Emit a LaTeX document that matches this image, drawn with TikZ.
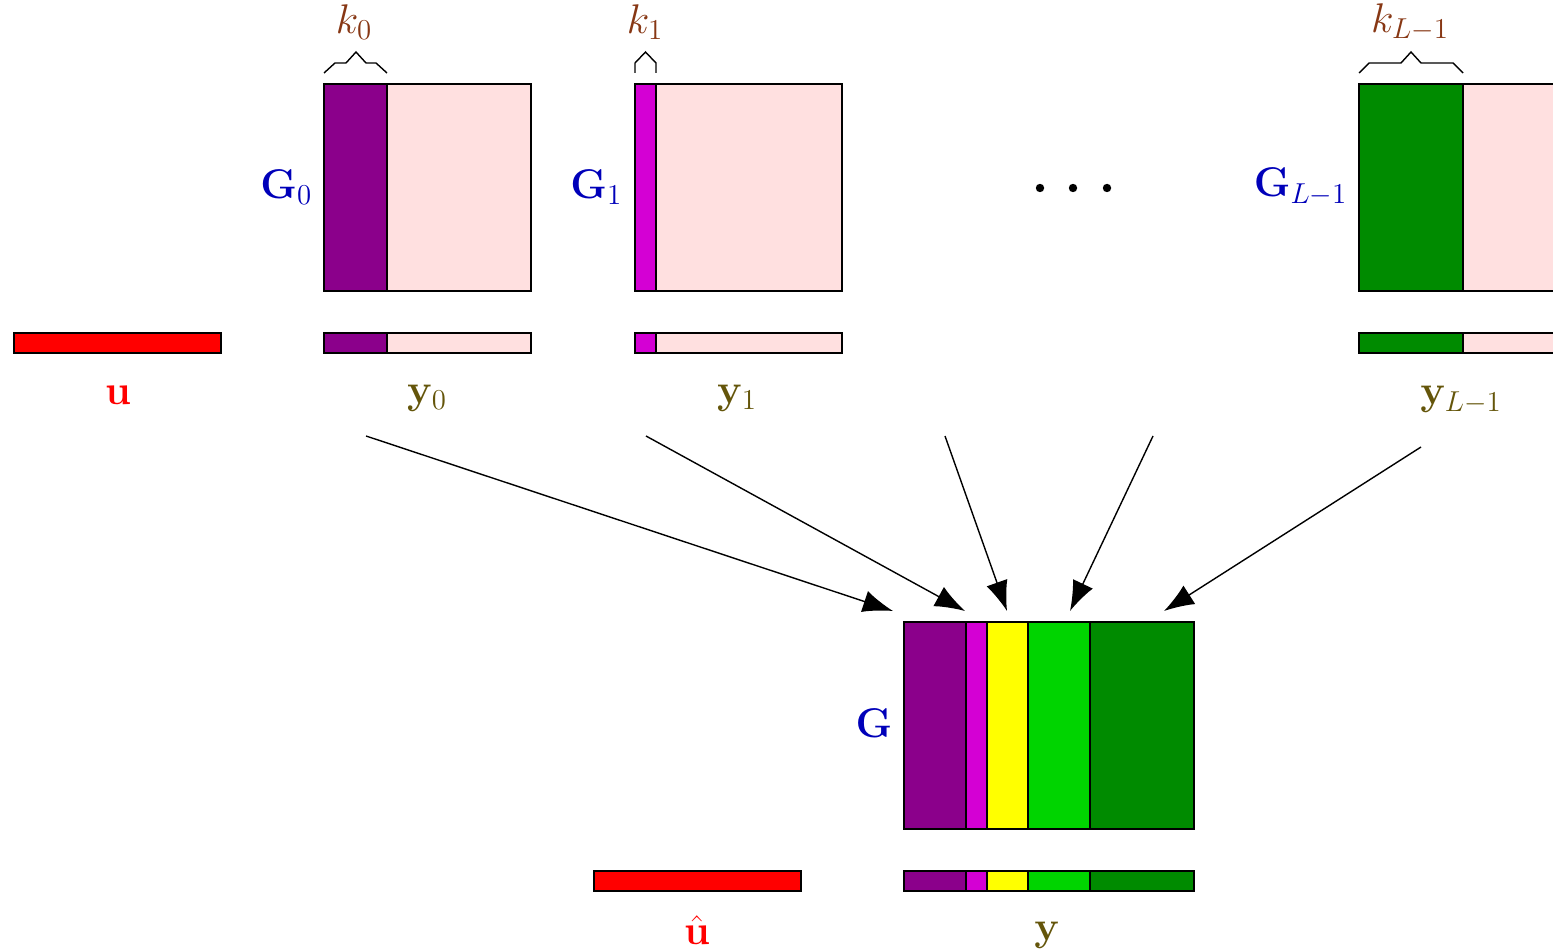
\documentclass[tikz,border=0pt]{standalone}
\usetikzlibrary{arrows.meta}
\definecolor{cpurple}{RGB}{139,0,139}
\definecolor{cmag}{RGB}{212,0,212}
\definecolor{cyel}{RGB}{255,255,0}
\definecolor{clgreen}{RGB}{0,212,0}
\definecolor{cdgreen}{RGB}{0,139,0}
\definecolor{cpink}{RGB}{255,224,224}
\definecolor{cred}{RGB}{255,0,0}
\definecolor{cblue}{RGB}{0,0,185}
\definecolor{colive}{RGB}{100,85,10}
\definecolor{cbrown}{RGB}{135,55,20}
\begin{document}
\begin{tikzpicture}[x=0.5pt,y=-0.5pt,line width=0.8pt,
  lbl/.style={font=\fontsize{19.5}{23}\selectfont,inner sep=0pt},
  glbl/.style={lbl,text=cblue,anchor=east},
  ylbl/.style={lbl,text=colive},
  klbl/.style={lbl,text=cbrown},
  bracepath/.style={line width=0.7pt,line join=miter},
  arr/.style={-{Latex[length=15pt,width=11pt]},line width=0.7pt},
  dotmark/.style={circle,fill=black,inner sep=0pt,minimum size=4.2pt}]
\clip (0,0) rectangle (1553,952);
% ---- G0 ----
\fill[cpink] (387,84) rectangle (531,291);
\fill[cpurple] (324,84) rectangle (387,291);
\draw (324,84) rectangle (531,291) (387,84) -- (387,291);
\fill[cpink] (387,333) rectangle (531,353);
\fill[cpurple] (324,333) rectangle (387,353);
\draw (324,333) rectangle (531,353) (387,333) -- (387,353);
\draw[bracepath] (324,73) -- (335,63) -- (346,63) -- (356,52) -- (366,63) -- (376,63) -- (387,73);
\node[klbl] (k0) at (354,22) {$k_0$};
\node[glbl] (G0) at (313,187) {$\mathbf{G}_0$};
\node[ylbl] (y0) at (427,398) {$\mathbf{y}_0$};
% ---- G1 ----
\fill[cpink] (656,84) rectangle (842,291);
\fill[cmag] (635,84) rectangle (656,291);
\draw (635,84) rectangle (842,291) (656,84) -- (656,291);
\fill[cpink] (656,333) rectangle (842,353);
\fill[cmag] (635,333) rectangle (656,353);
\draw (635,333) rectangle (842,353) (656,333) -- (656,353);
\draw[bracepath] (635,73) -- (635,63) -- (645.5,52) -- (656,63) -- (656,73);
\node[klbl] (k1) at (645,22) {$k_1$};
\node[glbl] (G1) at (623,187) {$\mathbf{G}_1$};
\node[ylbl] (y1) at (737,398) {$\mathbf{y}_1$};
% ---- dots ----
\node[dotmark] (d1) at (1040,188) {};
\node[dotmark] (d2) at (1073,188) {};
\node[dotmark] (d3) at (1107,188) {};
% ---- G_{L-1} ----
\fill[cpink] (1463,84) rectangle (1566,291);
\fill[cdgreen] (1359,84) rectangle (1463,291);
\draw (1359,84) rectangle (1566,291) (1463,84) -- (1463,291);
\fill[cpink] (1463,333) rectangle (1566,353);
\fill[cdgreen] (1359,333) rectangle (1463,353);
\draw (1359,333) rectangle (1566,353) (1463,333) -- (1463,353);
\draw[bracepath] (1359,73) -- (1369,63) -- (1401,63) -- (1411,52) -- (1421,63) -- (1453,63) -- (1463,73);
\node[klbl] (kL) at (1410,22) {$k_{L-1}$};
\node[glbl] (GL) at (1348,187) {$\mathbf{G}_{L-1}$};
\node[ylbl] (yL) at (1461,400) {$\mathbf{y}_{L-1}$};
% ---- u ----
\draw[fill=cred] (14,333) rectangle (221,353);
\node[lbl,text=cred] (u) at (118,395) {$\mathbf{u}$};
% ---- G ----
\fill[cpurple] (904,622) rectangle (966,829);
\fill[cmag] (966,622) rectangle (987,829);
\fill[cyel] (987,622) rectangle (1028,829);
\fill[clgreen] (1028,622) rectangle (1090,829);
\fill[cdgreen] (1090,622) rectangle (1194,829);
\draw (904,622) rectangle (1194,829)
  (966,622) -- (966,829) (987,622) -- (987,829)
  (1028,622) -- (1028,829) (1090,622) -- (1090,829);
\node[glbl] (G) at (893,723) {$\mathbf{G}$};
\fill[cpurple] (904,871) rectangle (966,891);
\fill[cmag] (966,871) rectangle (987,891);
\fill[cyel] (987,871) rectangle (1028,891);
\fill[clgreen] (1028,871) rectangle (1090,891);
\fill[cdgreen] (1090,871) rectangle (1194,891);
\draw (904,871) rectangle (1194,891)
  (966,871) -- (966,891) (987,871) -- (987,891)
  (1028,871) -- (1028,891) (1090,871) -- (1090,891);
\node[ylbl] (y) at (1047,935) {$\mathbf{y}$};
% ---- u hat ----
\draw[fill=cred] (594,871) rectangle (801,891);
\node[lbl,text=cred] (uh) at (697,930) {$\hat{\mathbf{u}}$};
% ---- arrows ----
\coordinate (s1) at (366,436);
\coordinate (s2) at (646,436);
\coordinate (s3) at (945,436);
\coordinate (s4) at (1153,436);
\coordinate (s5) at (1421,447);
\coordinate (e1) at (893,611);
\coordinate (e2) at (965,611);
\coordinate (e3) at (1007,611);
\coordinate (e4) at (1070,611);
\coordinate (e5) at (1164,611);
\draw[arr] (s1) -- (e1);
\draw[arr] (s2) -- (e2);
\draw[arr] (s3) -- (e3);
\draw[arr] (s4) -- (e4);
\draw[arr] (s5) -- (e5);
\end{tikzpicture}
\end{document}
